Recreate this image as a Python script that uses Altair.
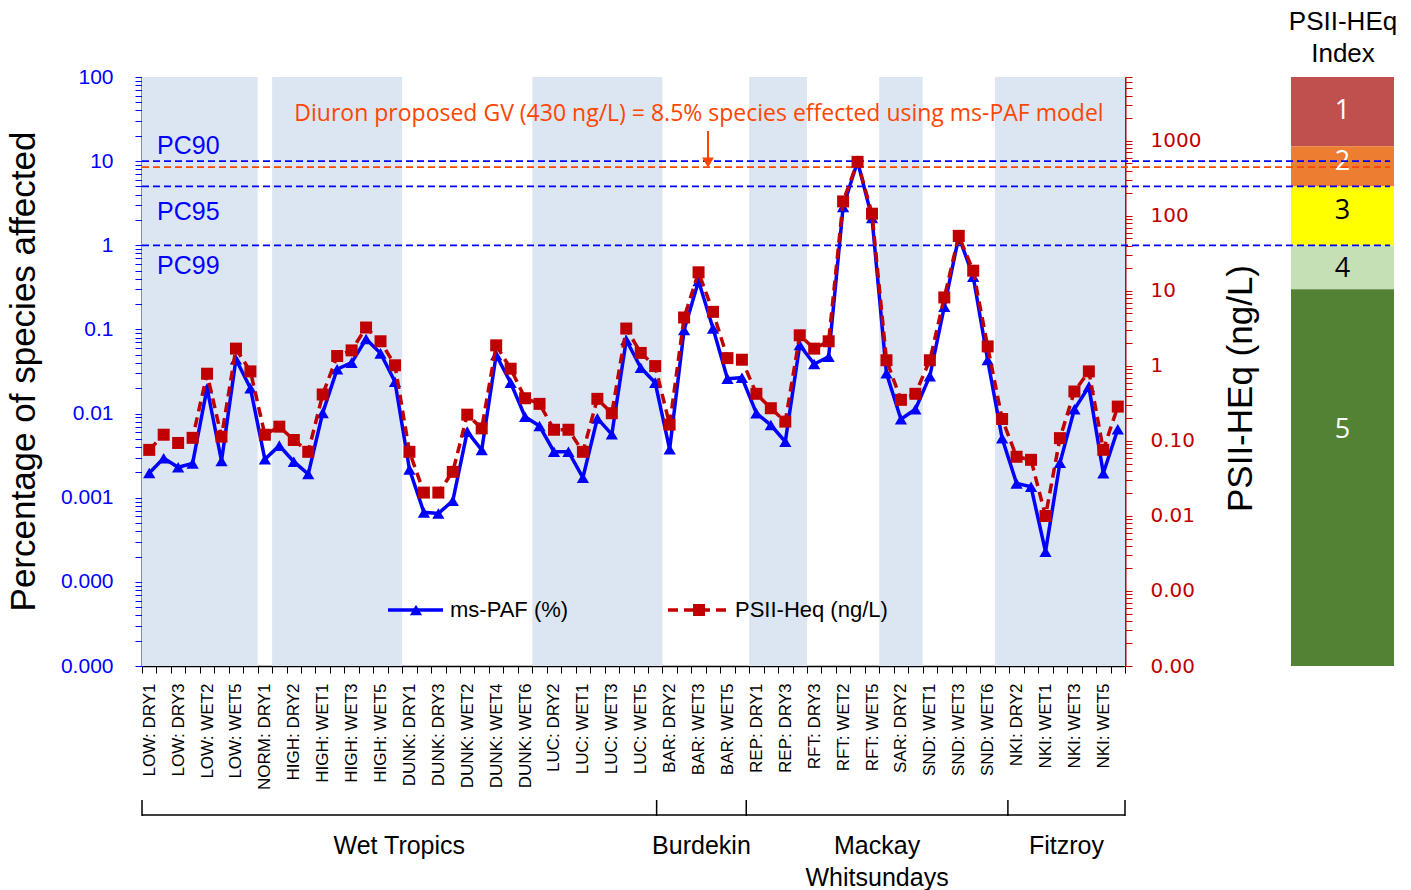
import json
import altair as alt
import pandas as pd

# Water samples in plotting order (site: sampling event)
sample_ids = [
    "LOW: DRY1", "LOW: DRY2", "LOW: DRY3", "LOW: WET1", "LOW: WET2", "LOW: WET3", "LOW: WET5", "LOW: WET6",
    "NORM: DRY1",
    "HIGH: DRY1", "HIGH: DRY2", "HIGH: DRY3", "HIGH: WET1", "HIGH: WET2", "HIGH: WET3", "HIGH: WET4", "HIGH: WET5", "HIGH: WET6",
    "DUNK: DRY1", "DUNK: DRY2", "DUNK: DRY3", "DUNK: WET1", "DUNK: WET2", "DUNK: WET3", "DUNK: WET4", "DUNK: WET5", "DUNK: WET6",
    "LUC: DRY1", "LUC: DRY2", "LUC: DRY3", "LUC: WET1", "LUC: WET2", "LUC: WET3", "LUC: WET4", "LUC: WET5", "LUC: WET6",
    "BAR: DRY2", "BAR: WET2", "BAR: WET3", "BAR: WET4", "BAR: WET5", "BAR: WET6",
    "REP: DRY1", "REP: DRY2", "REP: DRY3", "REP: WET1",
    "RFT: DRY3", "RFT: WET1", "RFT: WET2", "RFT: WET3", "RFT: WET5",
    "SAR: DRY1", "SAR: DRY2", "SAR: DRY3",
    "SND: WET1", "SND: WET2", "SND: WET3", "SND: WET4", "SND: WET6",
    "NKI: DRY1", "NKI: DRY2", "NKI: DRY3", "NKI: WET1", "NKI: WET2", "NKI: WET3", "NKI: WET4", "NKI: WET5", "NKI: WET6",
]

# Multi-substance potentially affected fraction (% of species)
ms_paf = [
    0.00197, 0.00294, 0.0023, 0.00256, 0.020, 0.00273, 0.0442, 0.020,
    0.00286,
    0.00416, 0.00268, 0.00191, 0.0102, 0.0336, 0.0403, 0.0769, 0.052, 0.0239,
    0.00217, 0.00067, 0.00065, 0.00092, 0.0061, 0.00369, 0.0497, 0.0233, 0.00918,
    0.00711, 0.00352, 0.00352, 0.00173, 0.00878, 0.00567, 0.0749, 0.0351, 0.0233,
    0.00376, 0.0984, 0.376, 0.103, 0.026, 0.0267,
    0.0101, 0.00731, 0.00463, 0.0653,
    0.0388, 0.0474, 2.85, 9.9, 2.11,
    0.0301, 0.00855, 0.01125,
    0.0279, 0.186, 1.27, 0.424, 0.0433,
    0.00508, 0.00148, 0.00135, 0.000228, 0.0026, 0.01125, 0.0209, 0.00195, 0.0065,
]

# PSII herbicide equivalent concentration (ng/L)
psii_heq = [
    0.076, 0.121, 0.094, 0.110, 0.787, 0.114, 1.70, 0.845,
    0.121,
    0.155, 0.103, 0.0716, 0.416, 1.355, 1.61, 3.25, 2.13, 1.02,
    0.0716, 0.0205, 0.0205, 0.0387, 0.224, 0.147, 1.88, 0.918, 0.371,
    0.312, 0.141, 0.141, 0.0716, 0.364, 0.234, 3.15, 1.49, 0.995,
    0.165, 4.42, 17.7, 5.26, 1.27, 1.21,
    0.425, 0.273, 0.181, 2.56,
    1.70, 2.13, 156, 525, 107,
    1.19, 0.353, 0.425,
    1.19, 8.18, 54.2, 18.6, 1.82,
    0.196, 0.0615, 0.056, 0.00998, 0.109, 0.456, 0.845, 0.0762, 0.287,
]

# NRM regions along the sample axis (edges in sample units)
region_names = ["Wet Tropics", "Burdekin", "Mackay\nWhitsundays", "Fitzroy"]
region_edges = [0, 35.6, 41.8, 59.9, 68]

# Protective concentration thresholds (% species affected)
pc_names = ["PC90", "PC95", "PC99"]
pc_affected = [10, 5, 1]
diuron_gv_affected = 8.5
diuron_note = "Diuron proposed GV (430 ng/L) = 8.5% species effected using ms-PAF model"

# PSII-HEq index categories (bounds in % species affected)
index_levels = [1, 2, 3, 4, 5]
index_upper = [100, 15, 5, 1, 0.3]
index_lower = [15, 5, 1, 0.3, 0.00001]
index_label_at = [39, 9.8, 2.55, 0.52, 0.0064]

# Decade tick labels
left_tick_labels = ["0.000", "0.000", "0.001", "0.01", "0.1", "1", "10", "100"]    # 1e-5 .. 1e2
right_tick_labels = ["0.00", "0.00", "0.01", "0.10", "1", "10", "100", "1000"]    # 1e-4 .. 1e3

# ---------------------------------------------------------------------------
W, H = 983, 589
BLUE = "#0000FF"
RED = "#C00000"
ORANGE = "#FF4500"
SANS = "Liberation Sans"

n = len(sample_ids)
band = W / n

df = pd.DataFrame({"sample": sample_ids, "paf": ms_paf, "psii": psii_heq})
df["pos"] = df.index + 0.5

# alternating shaded blocks, one per site
site = df["sample"].str.split(":").str[0]
block_id = (site != site.shift()).cumsum() - 1
blocks = (pd.DataFrame({"block": block_id, "i": df.index})
          .groupby("block")["i"].agg(["min", "max"]).reset_index())
blocks["x0"] = blocks["min"]
blocks["x1"] = blocks["max"] + 1
shaded = blocks[blocks["block"] % 2 == 0]

regions = pd.DataFrame({"region": region_names,
                        "lo": region_edges[:-1], "hi": region_edges[1:]})
regions["mid"] = (regions["lo"] + regions["hi"]) / 2
edges = pd.DataFrame({"edge": region_edges})

pc_df = pd.DataFrame({"name": pc_names, "pct": pc_affected})
gv_df = pd.DataFrame({"pct": [diuron_gv_affected]})
index_df = pd.DataFrame({"level": index_levels, "hi": index_upper,
                         "lo": index_lower, "at": index_label_at})
one = pd.DataFrame({"k": [0]})

# --- scales and axes --------------------------------------------------------
x_labels = [s if i % 2 == 0 else "" for i, s in enumerate(sample_ids)] + [""]
x_scale = alt.Scale(domain=[0, n], nice=False, zero=False)
x_axis = alt.Axis(
    values=list(range(n + 1)), labelExpr=f"{json.dumps(x_labels)}[datum.value]",
    labelAngle=270, labelOffset=band / 2, labelFlush=False, labelOverlap=False,
    labelFont=SANS, labelFontSize=17, labelColor="black", labelPadding=10,
    tickSize=7, tickColor="black", tickWidth=1, domainColor="black", domainWidth=1.5,
    grid=False, title=None,
)


def X(field):
    return alt.X(field, type="quantitative", scale=x_scale, axis=x_axis)


decade = "round(log(datum.value)/LN10)"
is_decade = f"abs(log(datum.value)/LN10 - {decade}) < 0.001"

left_ticks = [m * 10.0 ** k for k in range(-5, 2) for m in range(1, 10)] + [100.0]
left_scale = alt.Scale(type="log", domain=[1e-5, 100], nice=False)
left_axis = alt.Axis(
    values=left_ticks,
    labelExpr=f"{is_decade} ? {json.dumps(left_tick_labels)}[{decade} + 5] : ''",
    labelFont=SANS, labelFontSize=21, labelColor=BLUE, labelPadding=22,
    labelOverlap=False, labelFlush=False,
    tickSize=7, tickColor=BLUE, domainColor=BLUE, domainWidth=2, grid=False,
    title="Percentage of species affected", titleFont=SANS, titleFontSize=35,
    titleFontWeight="normal", titleColor="black", titleAngle=270,
    titleX=-119, titleY=294, titleAlign="center", titleBaseline="middle",
)

right_top = 7100
right_ticks = [m * 10.0 ** k for k in range(-4, 4) for m in range(1, 10)
               if m * 10.0 ** k <= right_top]
right_scale = alt.Scale(type="log", domain=[1e-4, right_top], nice=False)
right_axis = alt.Axis(
    orient="right", values=right_ticks,
    labelExpr=f"{is_decade} ? {json.dumps(right_tick_labels)}[{decade} + 4] : ''",
    labelFont="DejaVu Sans", labelFontSize=20, labelColor=RED, labelPadding=18,
    labelOverlap=False, labelFlush=False,
    tickSize=7, tickColor=RED, domainColor=RED, domainWidth=2, grid=False,
    title="PSII-HEq (ng/L)", titleFont=SANS, titleFontSize=35,
    titleFontWeight="normal", titleColor="black", titleAngle=270,
    titleX=115, titleY=311, titleAlign="center", titleBaseline="middle",
)


def YL(field):
    return alt.Y(field, type="quantitative", scale=left_scale, axis=left_axis)


def YR(field):
    return alt.Y(field, type="quantitative", scale=right_scale, axis=right_axis)


# --- left-axis group ---------------------------------------------------------
shade = alt.Chart(shaded).mark_rect(color="#DCE6F2").encode(
    x=X("x0"), x2="x1", y=alt.value(0), y2=alt.value(H))

index_bar = alt.Chart(index_df).mark_rect().encode(
    x=alt.value(1149), x2=alt.value(1252), y=YL("hi"), y2="lo",
    color=alt.Color("level:O", legend=None, scale=alt.Scale(
        domain=index_levels,
        range=["#C0504D", "#ED7D31", "#FFFF00", "#C5E0B4", "#548235"])))

index_text = alt.Chart(index_df).mark_text(font="Open Sans", fontSize=27).encode(
    x=alt.value(1200.5), y=YL("at"), text="level:N",
    color=alt.condition("datum.level == 3 || datum.level == 4",
                        alt.value("black"), alt.value("white")))

index_title = [
    alt.Chart(one).mark_text(text=t, font="Liberation Sans Narrow, Liberation Sans",
                             fontSize=26, color="black").encode(
        x=alt.value(1201), y=alt.value(yy))
    for t, yy in [("PSII-HEq", -55), ("Index", -23)]
]

pc_rules = alt.Chart(pc_df).mark_rule(color=BLUE, strokeDash=[7, 4], strokeWidth=1.8).encode(
    y=YL("pct"), x=alt.value(0), x2=alt.value(1248))
gv_rule = alt.Chart(gv_df).mark_rule(color=ORANGE, strokeDash=[7, 4], strokeWidth=1.8).encode(
    y=YL("pct"), x=alt.value(0), x2=alt.value(1248))

pc_offsets = {"PC90": -15, "PC95": 26, "PC99": 21}
pc_text = [
    alt.Chart(pc_df[pc_df["name"] == nm]).mark_text(
        align="left", baseline="middle", dy=pc_offsets[nm],
        font=SANS, fontSize=25, color=BLUE).encode(
        x=alt.value(15), y=YL("pct"), text="name:N")
    for nm in pc_names
]

gv_text = alt.Chart(one).mark_text(
    text=diuron_note, font="Open Sans", fontSize=23, color=ORANGE,
    align="center", baseline="middle").encode(x=alt.value(557), y=alt.value(37))
arrow_shaft = alt.Chart(one).mark_rule(color=ORANGE, strokeWidth=2).encode(
    x=alt.value(566), y=alt.value(54), y2=alt.value(81))
arrow_head = alt.Chart(one).mark_point(
    shape="triangle-down", filled=True, size=140, color=ORANGE, opacity=1).encode(
    x=alt.value(566), y=alt.value(85.5))

paf_line = alt.Chart(df).mark_line(color=BLUE, strokeWidth=3.5).encode(
    x=X("pos"), y=YL("paf"))
paf_pts = alt.Chart(df).mark_point(
    shape="triangle-up", filled=True, size=150, color=BLUE, opacity=1).encode(
    x=X("pos"), y=YL("paf"))

# legend
leg_y = 533
legend = [
    alt.Chart(one).mark_rule(color=BLUE, strokeWidth=3.5).encode(
        x=alt.value(246), x2=alt.value(301), y=alt.value(leg_y)),
    alt.Chart(one).mark_point(shape="triangle-up", filled=True, size=150,
                              color=BLUE, opacity=1).encode(
        x=alt.value(274), y=alt.value(leg_y)),
    alt.Chart(one).mark_text(text="ms-PAF (%)", font=SANS, fontSize=22, color="black",
                             align="left", baseline="middle").encode(
        x=alt.value(308), y=alt.value(leg_y)),
    alt.Chart(one).mark_rule(color=RED, strokeWidth=3.5, strokeDash=[10, 6]).encode(
        x=alt.value(526), x2=alt.value(588), y=alt.value(leg_y)),
    alt.Chart(one).mark_square(size=144, color=RED, opacity=1).encode(
        x=alt.value(557), y=alt.value(leg_y)),
    alt.Chart(one).mark_text(text="PSII-Heq (ng/L)", font=SANS, fontSize=22, color="black",
                             align="left", baseline="middle").encode(
        x=alt.value(593), y=alt.value(leg_y)),
]

# region brackets under the sample labels
bracket_line = alt.Chart(regions).mark_rule(color="black", strokeWidth=1.5).encode(
    x=X("lo"), x2="hi", y=alt.value(H + 149))
bracket_ticks = alt.Chart(edges).mark_rule(color="black", strokeWidth=1.5).encode(
    x=X("edge"), y=alt.value(H + 134), y2=alt.value(H + 150))
region_text = alt.Chart(regions).mark_text(
    font=SANS, fontSize=25, color="black", align="center", baseline="alphabetic",
    lineBreak="\n", lineHeight=32).encode(
    x=X("mid"), y=alt.value(H + 188), text="region:N")

left_group = alt.layer(
    shade, index_bar, index_text, *index_title, pc_rules, gv_rule, *pc_text,
    gv_text, arrow_shaft, arrow_head, paf_line, paf_pts, *legend,
    bracket_line, bracket_ticks, region_text,
)

# --- right-axis group --------------------------------------------------------
psii_line = alt.Chart(df).mark_line(color=RED, strokeWidth=3.5, strokeDash=[10, 6]).encode(
    x=X("pos"), y=YR("psii"))
psii_pts = alt.Chart(df).mark_square(size=144, color=RED, opacity=1).encode(
    x=X("pos"), y=YR("psii"))
right_group = alt.layer(psii_line, psii_pts)

chart = (
    alt.layer(left_group, right_group)
    .resolve_scale(y="independent")
    .properties(
        width=W, height=H,
        autosize=alt.AutoSizeParams(type="none"),
        padding={"left": 142, "top": 77, "right": 286, "bottom": 224},
    )
    .configure_view(strokeWidth=0)
)

chart.save("out.html", embed_options={"renderer": "svg", "actions": False})
